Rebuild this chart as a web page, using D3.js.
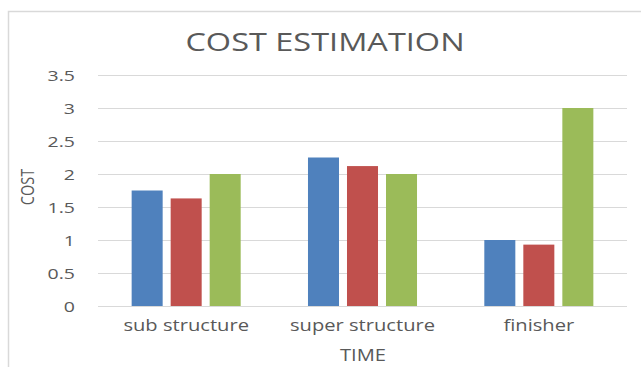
<!DOCTYPE html>
<html>
<head>
<meta charset="utf-8">
<script src="https://cdn.jsdelivr.net/npm/d3@7/dist/d3.min.js"></script>
<style>
  html, body { margin: 0; padding: 0; background: #fff; }
  svg { display: block; }
  text { font-family: "Open Sans", "Liberation Sans", sans-serif; fill: #595959; }
</style>
</head>
<body>
<svg id="chart" width="641" height="367"></svg>
<script>
// Cost estimation per phase, three series each
const categories = ["sub structure", "super structure", "finisher"];
const seriesNames = ["Series1", "Series2", "Series3"];
const series1 = [1.75, 2.25, 1.0];
const series2 = [1.63, 2.12, 0.93];
const series3 = [2.0, 2.0, 3.0];
const yTicks = [0, 0.5, 1, 1.5, 2, 2.5, 3, 3.5];
const colors = ["#4f81bd", "#c0504d", "#9bbb59"];

const svg = d3.select("#chart");
const plot = { left: 98, right: 627, top: 75, bottom: 306 };
const stretch = 1.3; // horizontal text widening

// chart frame
svg.append("rect")
  .attr("x", 8.5).attr("y", 11.5)
  .attr("width", 700).attr("height", 400)
  .attr("fill", "#fff").attr("stroke", "#d9d9d9").attr("stroke-width", 1.5);

const y = d3.scaleLinear().domain([0, 3.5]).range([plot.bottom, plot.top]);
const x0 = d3.scaleBand().domain(categories).range([plot.left, plot.right]).paddingInner(0).paddingOuter(0);
const x1 = d3.scaleBand().domain(seriesNames).range([0, x0.bandwidth()])
  .paddingInner(0.205).paddingOuter(0.8625);

// gridlines
svg.append("g").selectAll("line").data(yTicks).join("line")
  .attr("x1", plot.left).attr("x2", plot.right)
  .attr("y1", d => Math.round(y(d)) + 0.5).attr("y2", d => Math.round(y(d)) + 0.5)
  .attr("stroke", "#d9d9d9").attr("stroke-width", 1.2);

// y tick labels
svg.append("g").selectAll("text").data(yTicks).join("text")
  .attr("transform", d => `translate(75,${y(d) + 5.5}) scale(${stretch},1)`)
  .attr("text-anchor", "end")
  .attr("font-size", 15)
  .text(d => d);

// bars
const rows = categories.map((c, i) => ({ cat: c, vals: [series1[i], series2[i], series3[i]] }));
const groups = svg.append("g").selectAll("g").data(rows).join("g")
  .attr("transform", d => `translate(${x0(d.cat)},0)`);
groups.selectAll("rect").data(d => d.vals.map((v, j) => ({ v, s: seriesNames[j], j }))).join("rect")
  .attr("x", d => x1(d.s))
  .attr("width", x1.bandwidth())
  .attr("y", d => y(d.v))
  .attr("height", d => y(0) - y(d.v))
  .attr("fill", d => colors[d.j]);

// x category labels
svg.append("g").selectAll("text").data(categories).join("text")
  .attr("transform", d => `translate(${x0(d) + x0.bandwidth() / 2},331) scale(${stretch},1)`)
  .attr("text-anchor", "middle")
  .attr("font-size", 15.5)
  .text(d => d);

// title
svg.append("text")
  .attr("transform", `translate(325,51) scale(${stretch},1)`)
  .attr("text-anchor", "middle")
  .attr("font-size", 25)
  .text("COST ESTIMATION");

// axis titles
svg.append("text")
  .attr("transform", `translate(363,361) scale(${stretch},1)`)
  .attr("text-anchor", "middle")
  .attr("font-size", 15.5)
  .text("TIME");

svg.append("text")
  .attr("transform", `translate(34,187) scale(${stretch},1) rotate(-90)`)
  .attr("text-anchor", "middle")
  .attr("font-size", 14.5)
  .text("COST");
</script>
</body>
</html>
